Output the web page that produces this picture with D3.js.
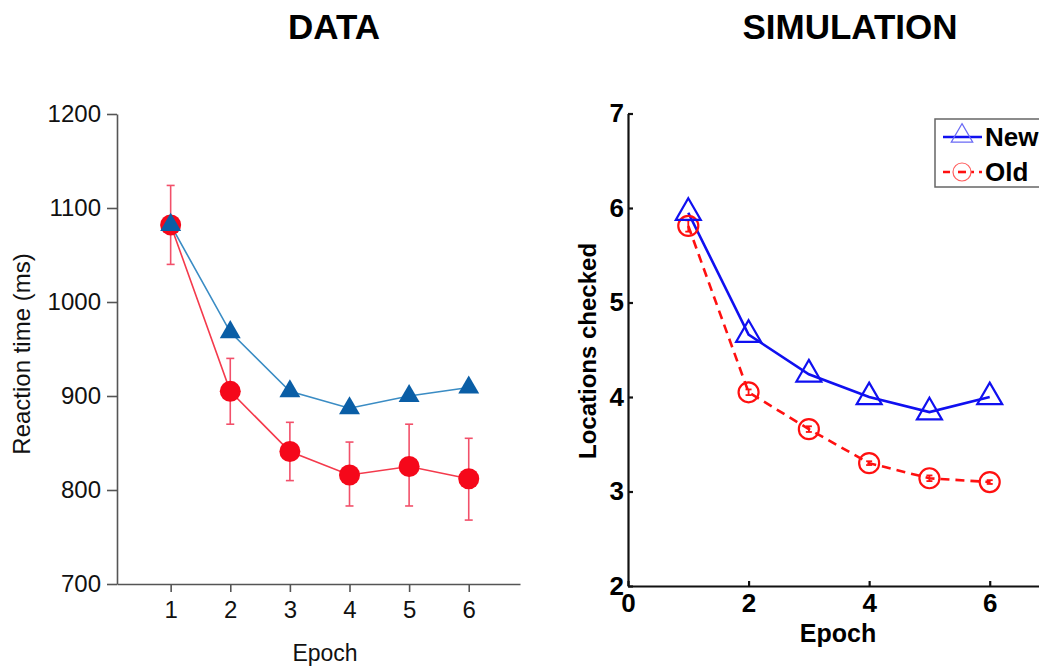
<!DOCTYPE html>
<html>
<head>
<meta charset="utf-8">
<script src="https://cdn.jsdelivr.net/npm/d3@7"></script>
<style>
  body { margin: 0; background: #fff; }
  svg { display: block; }
  text { font-family: "Liberation Sans", Arial, Helvetica, sans-serif; }
</style>
</head>
<body>
<div id="chart"></div>
<script>
// epochs shared by both panels
const epochs = [1, 2, 3, 4, 5, 6];

// DATA panel (reaction time, ms)
const dataNew = [1082, 968, 905, 887, 900, 909];
const dataOld = [1082, 905, 841, 816, 825, 812];
const dataOldHi = [1124, 940, 872, 851, 870, 855];
const dataOldLo = [1040, 870, 810, 783, 783, 768];
const dataYTicks = [700, 800, 900, 1000, 1100, 1200];

// SIMULATION panel (locations checked)
const simNew = [5.95, 4.66, 4.24, 4.0, 3.84, 4.0];
const simOld = [5.81, 4.05, 3.66, 3.30, 3.14, 3.10];
const simOldErr = [0.06, 0.03, 0.03, 0.02, 0.03, 0.02];
const simXTicks = [0, 2, 4, 6];
const simYTicks = [2, 3, 4, 5, 6, 7];

const legendNames = ["New", "Old"];

const W = 1039, H = 666;
const fmt = d3.format("d");

const svg = d3.select("#chart").append("svg")
    .attr("width", W)
    .attr("height", H);

// titles
svg.append("text").attr("x", 334).attr("y", 39)
    .attr("text-anchor", "middle").style("font-size", "35px").style("font-weight", "bold")
    .text("DATA");
svg.append("text").attr("x", 850).attr("y", 39)
    .attr("text-anchor", "middle").style("font-size", "35px").style("font-weight", "bold")
    .text("SIMULATION");

// ---------- left panel ----------
const xL = d3.scaleLinear().domain([0.1, 6.86]).range([117, 520]);
const yL = d3.scaleLinear().domain([700, 1200]).range([584, 114]);

const gL = svg.append("g");

gL.append("g")
    .attr("transform", "translate(0,584)")
    .call(d3.axisBottom(xL).tickValues(epochs).tickFormat(fmt).tickSizeInner(8).tickSizeOuter(0).tickPadding(9))
    .call(g => g.selectAll("path, line").attr("stroke", "#555").attr("stroke-width", 1.6))
    .call(g => g.selectAll("text").attr("fill", "#111").style("font-size", "24px").attr("font-family", null));

gL.append("g")
    .attr("transform", "translate(117,0)")
    .call(d3.axisLeft(yL).tickValues(dataYTicks).tickFormat(fmt).tickSizeInner(10).tickSizeOuter(0).tickPadding(6))
    .call(g => g.selectAll("path, line").attr("stroke", "#555").attr("stroke-width", 1.6))
    .call(g => g.selectAll("text").attr("fill", "#111").style("font-size", "24px").attr("font-family", null));

gL.append("text")
    .attr("transform", "translate(30,354) rotate(-90)")
    .attr("text-anchor", "middle").style("font-size", "24px").attr("fill", "#111")
    .text("Reaction time (ms)");
gL.append("text").attr("x", 325).attr("y", 661)
    .attr("text-anchor", "middle").style("font-size", "23px").attr("fill", "#111")
    .text("Epoch");

const lineL = (vals) => d3.line().x((d, i) => xL(epochs[i])).y(d => yL(d))(vals);

// error bars (old)
const ebL = gL.append("g").attr("stroke", "#f2506a").attr("stroke-width", 1.6);
epochs.forEach((e, i) => {
    const x = xL(e);
    ebL.append("line").attr("x1", x).attr("x2", x).attr("y1", yL(dataOldHi[i])).attr("y2", yL(dataOldLo[i]));
    ebL.append("line").attr("x1", x - 4).attr("x2", x + 4).attr("y1", yL(dataOldHi[i])).attr("y2", yL(dataOldHi[i]));
    ebL.append("line").attr("x1", x - 4).attr("x2", x + 4).attr("y1", yL(dataOldLo[i])).attr("y2", yL(dataOldLo[i]));
});

gL.append("path").attr("d", lineL(dataOld)).attr("fill", "none").attr("stroke", "#f43a4c").attr("stroke-width", 1.6);
gL.append("path").attr("d", lineL(dataNew)).attr("fill", "none").attr("stroke", "#3a8cc4").attr("stroke-width", 1.6);

gL.selectAll("circle.old").data(dataOld).join("circle")
    .attr("cx", (d, i) => xL(epochs[i])).attr("cy", d => yL(d)).attr("r", 10.5)
    .attr("fill", "#f5081a");

const triL = d3.symbol().type(d3.symbolTriangle).size(190);
gL.selectAll("path.new").data(dataNew).join("path")
    .attr("transform", (d, i) => `translate(${xL(epochs[i])},${yL(d)})`)
    .attr("d", triL).attr("fill", "#0a5ea6");

// ---------- right panel ----------
const xR = d3.scaleLinear().domain([0, 7]).range([628, 1050]);
const yR = d3.scaleLinear().domain([2, 7]).range([586, 113.5]);

const gR = svg.append("g");

gR.append("g")
    .attr("transform", "translate(0,586)")
    .call(d3.axisBottom(xR).tickValues(simXTicks).tickFormat(fmt).tickSizeInner(-5).tickSizeOuter(0).tickPadding(8))
    .call(g => g.selectAll("path, line").attr("stroke", "#111").attr("stroke-width", 2.2))
    .call(g => g.selectAll("text").attr("fill", "#000").style("font-size", "26px").style("font-weight", "bold").attr("font-family", null));

gR.append("g")
    .attr("transform", "translate(628,0)")
    .call(d3.axisLeft(yR).tickValues(simYTicks).tickFormat(fmt).tickSizeInner(-5).tickSizeOuter(0).tickPadding(4))
    .call(g => g.selectAll("path, line").attr("stroke", "#111").attr("stroke-width", 2.2))
    .call(g => g.selectAll("text").attr("fill", "#000").style("font-size", "26px").style("font-weight", "bold").attr("font-family", null));

gR.append("text")
    .attr("transform", "translate(596,351) rotate(-90)")
    .attr("text-anchor", "middle").style("font-size", "24px").style("font-weight", "bold")
    .text("Locations checked");
gR.append("text").attr("x", 838).attr("y", 642)
    .attr("text-anchor", "middle").style("font-size", "25px").style("font-weight", "bold")
    .text("Epoch");

const lineR = (vals) => d3.line().x((d, i) => xR(epochs[i])).y(d => yR(d))(vals);

gR.append("path").attr("d", lineR(simOld)).attr("fill", "none")
    .attr("stroke", "#ff1010").attr("stroke-width", 2.6).attr("stroke-dasharray", "9,6");
gR.append("path").attr("d", lineR(simNew)).attr("fill", "none")
    .attr("stroke", "#1010f0").attr("stroke-width", 2.6);

// tiny error bars inside old circles
const ebR = gR.append("g").attr("stroke", "#ff1010").attr("stroke-width", 1.8);
epochs.forEach((e, i) => {
    const x = xR(e), hi = yR(simOld[i] + simOldErr[i]), lo = yR(simOld[i] - simOldErr[i]);
    ebR.append("line").attr("x1", x).attr("x2", x).attr("y1", hi).attr("y2", lo);
    ebR.append("line").attr("x1", x - 3).attr("x2", x + 3).attr("y1", hi).attr("y2", hi);
    ebR.append("line").attr("x1", x - 3).attr("x2", x + 3).attr("y1", lo).attr("y2", lo);
});

gR.selectAll("circle.old").data(simOld).join("circle")
    .attr("cx", (d, i) => xR(epochs[i])).attr("cy", d => yR(d)).attr("r", 10)
    .attr("fill", "none").attr("stroke", "#ff1010").attr("stroke-width", 2.2);

const triR = d3.symbol().type(d3.symbolTriangle).size(270);
gR.selectAll("path.new").data(simNew).join("path")
    .attr("transform", (d, i) => `translate(${xR(epochs[i])},${yR(d)})`)
    .attr("d", triR).attr("fill", "none").attr("stroke", "#1010f0").attr("stroke-width", 2.2);

// legend
const leg = gR.append("g");
leg.append("rect").attr("x", 935).attr("y", 119).attr("width", 130).attr("height", 68)
    .attr("fill", "#fff").attr("stroke", "#666").attr("stroke-width", 1.5);
const legY = [137, 172];
leg.append("line").attr("x1", 943).attr("x2", 982).attr("y1", legY[0]).attr("y2", legY[0])
    .attr("stroke", "#1010f0").attr("stroke-width", 2.6);
leg.append("path").attr("transform", `translate(962,${legY[0] - 1})`)
    .attr("d", d3.symbol().type(d3.symbolTriangle).size(200))
    .attr("fill", "none").attr("stroke", "#6a6af5").attr("stroke-width", 1.2);
leg.append("line").attr("x1", 943).attr("x2", 982).attr("y1", legY[1]).attr("y2", legY[1])
    .attr("stroke", "#ff1010").attr("stroke-width", 2.6).attr("stroke-dasharray", "7,5");
leg.append("circle").attr("cx", 962).attr("cy", legY[1]).attr("r", 9)
    .attr("fill", "#fff").attr("stroke", "#ff6060").attr("stroke-width", 1.2);
leg.append("line").attr("x1", 958).attr("x2", 966).attr("y1", legY[1]).attr("y2", legY[1])
    .attr("stroke", "#ff1010").attr("stroke-width", 2.6);
leg.selectAll("text.lab").data(legendNames).join("text")
    .attr("x", 985).attr("y", (d, i) => legY[i] + 9)
    .style("font-size", "26px").style("font-weight", "bold")
    .text(d => d);
</script>
</body>
</html>
